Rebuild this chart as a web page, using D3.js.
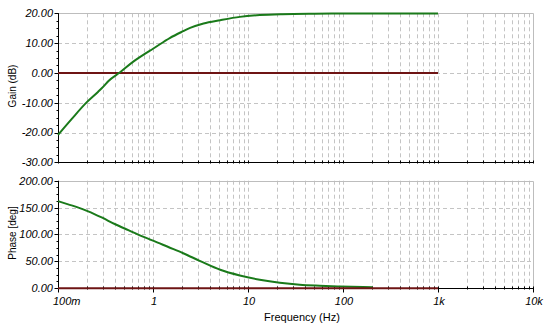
<!DOCTYPE html>
<html>
<head>
<meta charset="utf-8">
<script src="https://cdn.jsdelivr.net/npm/d3@7"></script>
<style>
  html, body { margin: 0; padding: 0; background: #fff; }
  svg { display: block; }
  text { font-family: "Liberation Sans", Arial, sans-serif; }
</style>
</head>
<body>
<svg id="chart" width="546" height="335"></svg>
<script>
// Bode plot: gain and phase against frequency (log axis)
const gainFreq = [0.1, 0.139, 0.2, 0.265, 0.3, 0.34, 0.45, 0.62, 0.82, 1.0, 1.5, 2.08, 2.46, 3.4, 5.1, 8.2, 13.3, 23, 50, 100, 1000];
const gainDb   = [-20.8, -15.5, -9.9, -6.3, -4.6, -2.7, 0.2, 3.8, 6.4, 8.1, 11.7, 14.0, 15.1, 16.6, 17.7, 18.8, 19.4, 19.7, 19.85, 19.9, 19.9];

const phaseFreq = [0.1, 0.128, 0.164, 0.208, 0.288, 0.4, 0.55, 0.76, 1.0, 1.45, 2.08, 3.1, 5.1, 8.2, 13.3, 21.6, 35, 57, 93, 205];
const phaseDeg  = [162, 156, 150, 143, 131.6, 119, 108, 97, 88.6, 76.6, 65, 51, 34.3, 23.7, 15.7, 10, 6.3, 4.5, 3.2, 1.9];

// reference traces at zero
const refFreq  = [0.1, 1000];
const refGain  = [0, 0];
const refPhase = [0, 0];

const freqTicks  = [0.1, 1, 10, 100, 1000, 10000];
const freqLabels = ["100m", "1", "10", "100", "1k", "10k"];
const gainTicks  = [-30, -20, -10, 0, 10, 20];
const phaseTicks = [0, 50, 100, 150, 200];

const svg = d3.select("#chart");
const green = "#1a7a1a", maroon = "#6e1414", gridCol = "#c4c4c4";

const x = d3.scaleLog().domain([0.1, 10000]).range([58, 533]);
const yGain  = d3.scaleLinear().domain([-30, 20]).range([162.3, 13.3]);
const yPhase = d3.scaleLinear().domain([0, 200]).range([288.2, 180.7]);

const fmt = v => d3.format(".2f")(v).replace("\u2212", "-");

// minor frequency positions: 1..9 per decade
const minorFreq = [];
for (let d = 0.1; d < 10000; d *= 10) {
  for (let k = 1; k <= 9; k++) minorFreq.push(+(d * k).toPrecision(3));
}
minorFreq.push(10000);

function panel(y, yTicks, minorStep, title, titleY) {
  const [y0, y1] = y.range();
  const x0 = x.range()[0], x1 = x.range()[1];
  const g = svg.append("g");

  // vertical dashed grid
  g.selectAll(null).data(minorFreq.filter(f => f > 0.1 && f < 10000)).join("line")
    .attr("x1", d => Math.round(x(d)) + 0.5).attr("x2", d => Math.round(x(d)) + 0.5)
    .attr("y1", y1).attr("y2", y0)
    .attr("stroke", gridCol).attr("stroke-dasharray", "4,3");

  // horizontal dashed grid
  g.selectAll(null).data(yTicks.filter(v => v !== y.domain()[0] && v !== y.domain()[1])).join("line")
    .attr("x1", x0).attr("x2", x1)
    .attr("y1", d => Math.round(y(d)) + 0.5).attr("y2", d => Math.round(y(d)) + 0.5)
    .attr("stroke", gridCol).attr("stroke-dasharray", "4,3");

  // top and right border
  g.append("path")
    .attr("d", `M${x0},${Math.round(y1) + 0.5}H${Math.round(x1) + 0.5}V${y0}`)
    .attr("fill", "none").attr("stroke", "#bdbdbd");

  // left axis
  const yMinor = d3.range(y.domain()[0], y.domain()[1] + 1e-9, minorStep);
  const left = g.append("g").attr("transform", `translate(${x0 + 0.5},0)`);
  left.append("line").attr("y1", y1).attr("y2", y0).attr("stroke", "#000");
  left.selectAll(null).data(yMinor).join("line")
    .attr("x1", -2).attr("x2", 0)
    .attr("y1", d => Math.round(y(d)) + 0.5).attr("y2", d => Math.round(y(d)) + 0.5)
    .attr("stroke", "#000");
  left.selectAll(null).data(yTicks).join("line")
    .attr("x1", -4).attr("x2", 0)
    .attr("y1", d => Math.round(y(d)) + 0.5).attr("y2", d => Math.round(y(d)) + 0.5)
    .attr("stroke", "#000");
  left.selectAll(null).data(yTicks).join("text")
    .attr("x", -5.5).attr("y", d => y(d)).attr("dy", "0.36em")
    .attr("text-anchor", "end").attr("font-size", 11).attr("font-style", "italic")
    .text(fmt);

  // bottom axis line
  const bottom = g.append("g").attr("transform", `translate(0,${Math.round(y0) + 0.5})`);
  bottom.append("line").attr("x1", x0).attr("x2", x1 + 0.5).attr("stroke", "#000");
  bottom.selectAll(null).data(minorFreq).join("line")
    .attr("x1", d => Math.round(x(d)) + 0.5).attr("x2", d => Math.round(x(d)) + 0.5)
    .attr("y1", -2).attr("y2", 1).attr("stroke", "#000");

  // axis title
  svg.append("text")
    .attr("transform", `translate(12,${titleY}) rotate(-90)`)
    .attr("text-anchor", "middle").attr("dy", "0.35em").attr("font-size", 10)
    .text(title);
  return bottom;
}

const topAxis = panel(yGain, gainTicks, 2.5, "Gain (dB)", 86);
const botAxis = panel(yPhase, phaseTicks, 12.5, "Phase [deg]", 233);

// decade ticks and labels on the frequency axis
botAxis.selectAll(null).data(freqTicks).join("line")
  .attr("x1", d => Math.round(x(d)) + 0.5).attr("x2", d => Math.round(x(d)) + 0.5)
  .attr("y1", -1).attr("y2", 4).attr("stroke", "#000");
botAxis.selectAll(null).data(freqTicks).join("text")
  .attr("x", (d, i) => i === 0 ? x(d) - 5 : x(d) + 1)
  .attr("y", 16)
  .attr("text-anchor", (d, i) => i === 0 ? "start" : "middle")
  .attr("font-size", 11).attr("font-style", "italic")
  .text((d, i) => freqLabels[i]);

svg.append("text")
  .attr("x", 302).attr("y", 321).attr("text-anchor", "middle").attr("font-size", 11)
  .text("Frequency (Hz)");

// traces
const lineG = d3.line().curve(d3.curveMonotoneX).x(d => x(d[0])).y(d => yGain(d[1]));
const lineP = d3.line().curve(d3.curveMonotoneX).x(d => x(d[0])).y(d => yPhase(d[1]));

svg.append("path").datum(d3.zip(refFreq, refGain)).attr("d", lineG)
  .attr("fill", "none").attr("stroke", maroon).attr("stroke-width", 2);
svg.append("path").datum(d3.zip(gainFreq, gainDb)).attr("d", lineG)
  .attr("fill", "none").attr("stroke", green).attr("stroke-width", 2);

svg.append("path").datum(d3.zip(phaseFreq, phaseDeg)).attr("d", lineP)
  .attr("fill", "none").attr("stroke", green).attr("stroke-width", 2);
svg.append("path").datum(d3.zip(refFreq, refPhase)).attr("d", lineP)
  .attr("fill", "none").attr("stroke", maroon).attr("stroke-width", 2);
</script>
</body>
</html>
